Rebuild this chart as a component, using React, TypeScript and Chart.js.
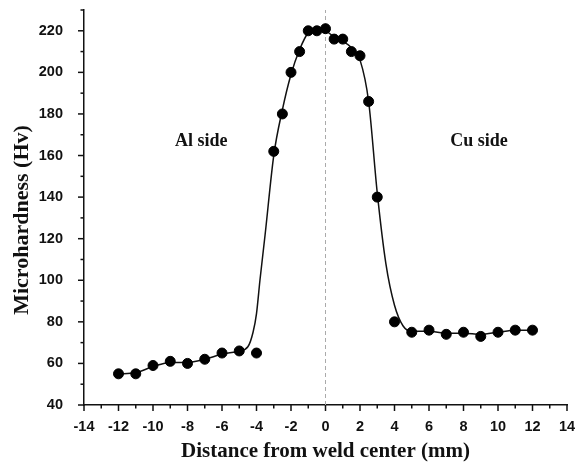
import React, { useEffect, useRef } from "react";
import { Chart, registerables } from "chart.js";

Chart.register(...registerables);

// Measured points
const pointX = [-12, -11, -10, -9, -8, -7, -6, -5, -4, -3, -2.5, -2, -1.5, -1, -0.5, 0, 0.5, 1, 1.5, 2, 2.5, 3, 4, 5, 6, 7, 8, 9, 10, 11, 12];
const pointY = [55, 55, 59, 61, 60, 62, 65, 66, 65, 162, 180, 200, 210, 220, 220, 221, 216, 216, 210, 208, 186, 140, 80, 75, 76, 74, 75, 73, 75, 76, 76];

// Fitted smooth curve
const fitX = [-12, -11, -10, -9, -8, -7, -6, -5, -4.5, -4.2, -4, -3.8, -3.5, -3, -2.5, -2, -1.5, -1, -0.5, 0, 0.5, 1, 1.5, 2, 2.5, 3, 3.5, 4, 4.5, 5, 6, 7, 8, 9, 10, 11, 12];
const fitY = [55, 55.5, 58.5, 60.5, 60.5, 62, 64.5, 66, 68, 75, 84, 100, 122, 160, 182, 199, 211, 219, 220.5, 220, 217, 215, 212, 206, 186, 142, 108, 88, 78, 75.5, 75.5, 74.5, 74.5, 74, 75, 76, 76];

const xTickValues = [-14, -12, -10, -8, -6, -4, -2, 0, 2, 4, 6, 8, 10, 12, 14];
const yTickValues = [40, 60, 80, 100, 120, 140, 160, 180, 200, 220];

const xTitle = "Distance from weld center (mm)";
const yTitle = "Microhardness (Hv)";
const annotations = [
  { text: "Al side", x: -7.2, y: 167 },
  { text: "Cu side", x: 8.9, y: 167 },
];

const X_MIN = -14, X_MAX = 14, Y_MIN = 40, Y_MAX = 230;

const decorPlugin = {
  id: "decor",
  afterDraw(chart: any) {
    const { ctx, chartArea } = chart;
    const xs = chart.scales.x;
    const ys = chart.scales.y;
    ctx.save();
    ctx.strokeStyle = "#111";
    ctx.lineWidth = 1.5;
    // x ticks (major every 2, minor every 1)
    for (let v = X_MIN; v <= X_MAX; v += 1) {
      const px = xs.getPixelForValue(v);
      const len = v % 2 === 0 ? 6 : 3.5;
      ctx.beginPath();
      ctx.moveTo(px, chartArea.bottom);
      ctx.lineTo(px, chartArea.bottom + len);
      ctx.stroke();
    }
    // y ticks (major every 20, minor every 10)
    for (let v = Y_MIN; v <= Y_MAX; v += 10) {
      const py = ys.getPixelForValue(v);
      const len = (v - Y_MIN) % 20 === 0 ? 6 : 3.5;
      ctx.beginPath();
      ctx.moveTo(chartArea.left, py);
      ctx.lineTo(chartArea.left - len, py);
      ctx.stroke();
    }
    // annotations
    ctx.fillStyle = "#111";
    ctx.font = 'bold 18px "Liberation Serif", "Times New Roman", serif';
    ctx.textAlign = "center";
    ctx.textBaseline = "middle";
    for (const a of annotations) {
      ctx.fillText(a.text, xs.getPixelForValue(a.x), ys.getPixelForValue(a.y));
    }
    // axis titles
    ctx.font = 'bold 21px "Liberation Serif", "Times New Roman", serif';
    ctx.fillText(xTitle, (chartArea.left + chartArea.right) / 2, 452);
    ctx.font = 'bold 22px "Liberation Serif", "Times New Roman", serif';
    ctx.translate(22, 220);
    ctx.rotate(-Math.PI / 2);
    ctx.fillText(yTitle, 0, 0);
    ctx.restore();
  },
};

export default function App() {
  const canvasRef = useRef<HTMLCanvasElement | null>(null);

  useEffect(() => {
    if (!canvasRef.current) return;
    const tickFont = { family: '"Liberation Sans", Arial, sans-serif', size: 14.5, weight: "bold" as const };
    const chart = new Chart(canvasRef.current, {
      type: "scatter",
      data: {
        datasets: [
          {
            label: "points",
            data: pointX.map((x, i) => ({ x, y: pointY[i] })),
            backgroundColor: "#000",
            borderColor: "#000",
            pointRadius: 5,
            pointHoverRadius: 5,
            showLine: false,
            order: 1,
          },
          {
            label: "fit",
            data: fitX.map((x, i) => ({ x, y: fitY[i] })),
            showLine: true,
            borderColor: "#111",
            borderWidth: 1.5,
            pointRadius: 0,
            cubicInterpolationMode: "monotone",
            fill: false,
            order: 2,
          },
          {
            label: "center",
            data: [
              { x: 0, y: Y_MIN },
              { x: 0, y: Y_MAX },
            ],
            showLine: true,
            borderColor: "#aaa",
            borderWidth: 1,
            borderDash: [4, 3],
            pointRadius: 0,
            order: 3,
          },
        ],
      },
      options: {
        animation: false,
        responsive: false,
        maintainAspectRatio: false,
        layout: { padding: { left: 0, right: 11, top: 10, bottom: 0 } },
        plugins: { legend: { display: false }, tooltip: { enabled: false } },
        scales: {
          x: {
            type: "linear",
            min: X_MIN,
            max: X_MAX,
            afterBuildTicks: (s: any) => {
              s.ticks = xTickValues.map((v) => ({ value: v }));
            },
            afterFit: (s: any) => {
              s.height = 59;
              s.paddingLeft = 0;
              s.paddingRight = 0;
            },
            grid: { display: false, drawTicks: false },
            border: { display: true, color: "#111", width: 1.5 },
            ticks: { font: tickFont, color: "#111", padding: 13, maxRotation: 0, autoSkip: false },
          },
          y: {
            type: "linear",
            min: Y_MIN,
            max: Y_MAX,
            afterBuildTicks: (s: any) => {
              s.ticks = yTickValues.map((v) => ({ value: v }));
            },
            afterFit: (s: any) => {
              s.width = 84;
              s.paddingTop = 0;
              s.paddingBottom = 0;
            },
            grid: { display: false, drawTicks: false },
            border: { display: true, color: "#111", width: 1.5 },
            ticks: { font: tickFont, color: "#111", padding: 21, autoSkip: false },
          },
        },
      },
      plugins: [decorPlugin],
    });
    return () => chart.destroy();
  }, []);

  return (
    <div style={{ position: "fixed", left: 0, top: 0, width: 578, height: 464, background: "#fff" }}>
      <canvas ref={canvasRef} width={578} height={464} style={{ width: 578, height: 464 }} />
    </div>
  );
}
